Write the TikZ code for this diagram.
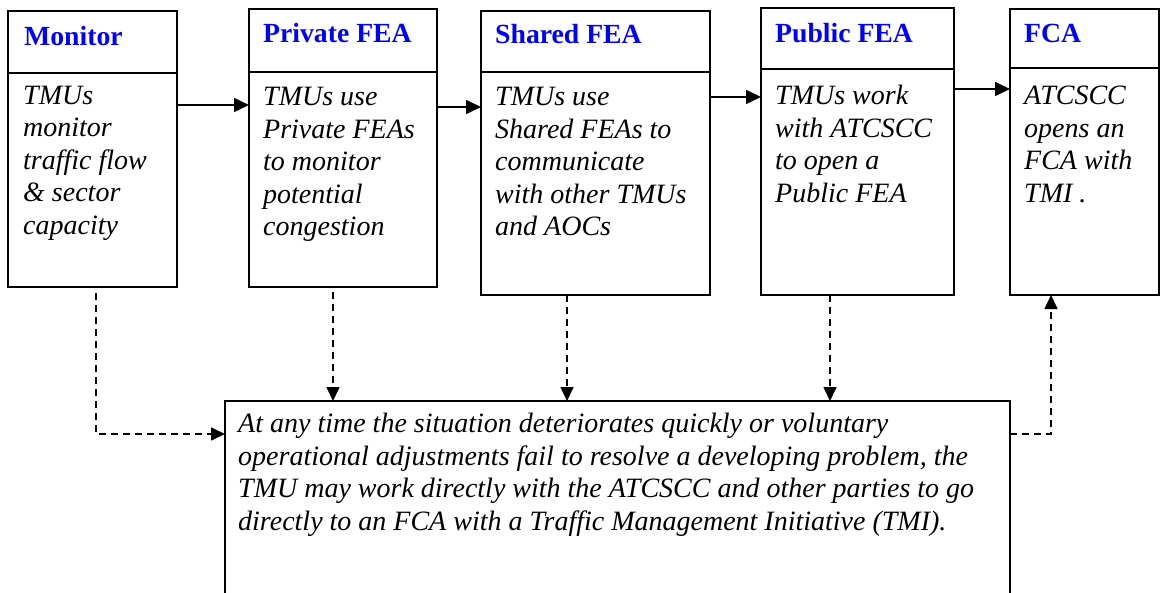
\documentclass[tikz,border=0pt]{standalone}
\usepackage{fontspec}
\setmainfont{Liberation Serif}
\usetikzlibrary{arrows.meta}
\definecolor{headblue}{RGB}{0,0,255}
\tikzset{
  boxnode/.style={draw=black, line width=1.8pt, rectangle, inner sep=0pt, outer sep=0pt},
  headtext/.style={anchor=base west, inner sep=0pt, text=headblue, font=\fontsize{27.7}{32}\selectfont\bfseries},
  bodytext/.style={anchor=north west, inner sep=0pt, align=left, font=\fontsize{28}{32.5}\selectfont\itshape},
  flowarrow/.style={line width=1.6pt, -{Triangle[length=15pt,width=14pt]}},
  dasharrow/.style={line width=1.6pt, dash pattern=on 7pt off 5pt, -{Triangle[length=14pt,width=13pt]}},
  divider/.style={line width=1.8pt}
}
\begin{document}
\begin{tikzpicture}[x=1pt,y=-1pt]
\path[use as bounding box] (0,0) rectangle (1162,592);
\clip (0,0) rectangle (1162,592);
% boxes
\node[boxnode, minimum width=169pt, minimum height=276pt] (m) at (92.5,149) {};
\node[boxnode, minimum width=188pt, minimum height=278pt] (p) at (343,148) {};
\node[boxnode, minimum width=229pt, minimum height=284pt] (s) at (595.5,153) {};
\node[boxnode, minimum width=193pt, minimum height=287pt] (u) at (857.5,151.5) {};
\node[boxnode, minimum width=149pt, minimum height=286pt] (f) at (1084.5,152) {};
\node[boxnode, minimum width=785pt, minimum height=219pt] (b) at (617.5,510.5) {};
% header dividers
\draw[divider] (m.west |- 0,73) -- (m.east |- 0,73);
\draw[divider] (p.west |- 0,72) -- (p.east |- 0,72);
\draw[divider] (s.west |- 0,72) -- (s.east |- 0,72);
\draw[divider] (u.west |- 0,69) -- (u.east |- 0,69);
\draw[divider] (f.west |- 0,68) -- (f.east |- 0,68);
% headings
\node[headtext] (mh) at (24,45) {Monitor};
\node[headtext] (ph) at (263,42) {Private FEA};
\node[headtext] (sh) at (495,43) {Shared FEA};
\node[headtext] (uh) at (775,42) {Public FEA};
\node[headtext] (fh) at (1024,42) {FCA};
% bodies
\node[bodytext] (mb) at (23,81.5) {\strut TMUs\\monitor\\traffic flow\\\& sector\\capacity};
\node[bodytext] (pb) at (263,83) {\strut TMUs use\\Private FEAs\\to monitor\\potential\\congestion};
\node[bodytext] (sb) at (495,83) {\strut TMUs use\\Shared FEAs to\\communicate\\with other TMUs\\and AOCs};
\node[bodytext] (ub) at (775,82) {\strut TMUs work\\with ATCSCC\\to open a\\Public FEA};
\node[bodytext] (fb) at (1024,82) {\strut ATCSCC\\opens an\\FCA with\\TMI .};
\node[bodytext] (bb) at (238,410) {\strut At any time the situation deteriorates quickly or voluntary\\operational adjustments fail to resolve a developing problem, the\\TMU may work directly with the ATCSCC and other parties to go\\directly to an FCA with a Traffic Management Initiative (TMI).};
% solid flow arrows
\draw[flowarrow] (m.east |- 0,105) -- (p.west |- 0,105);
\draw[flowarrow] (p.east |- 0,107) -- (s.west |- 0,107);
\draw[flowarrow] (s.east |- 0,97) -- (u.west |- 0,97);
\draw[flowarrow] (u.east |- 0,89) -- (f.west |- 0,89);
% dashed arrows
\draw[dasharrow] ([xshift=3.5pt,yshift=-6pt]m.south) |- (b.west |- 0,434);
\draw[dasharrow] ([xshift=-10pt,yshift=-5pt]p.south) -- ([xshift=-10pt]p.south |- b.north);
\draw[dasharrow] ([xshift=-28.5pt]s.south) -- ([xshift=-28.5pt]s.south |- b.north);
\draw[dasharrow] ([xshift=-27.5pt]u.south) -- ([xshift=-27.5pt]u.south |- b.north);
\draw[dasharrow] (b.east |- 0,434) -| ([xshift=-33.5pt]f.south);
\end{tikzpicture}
\end{document}
